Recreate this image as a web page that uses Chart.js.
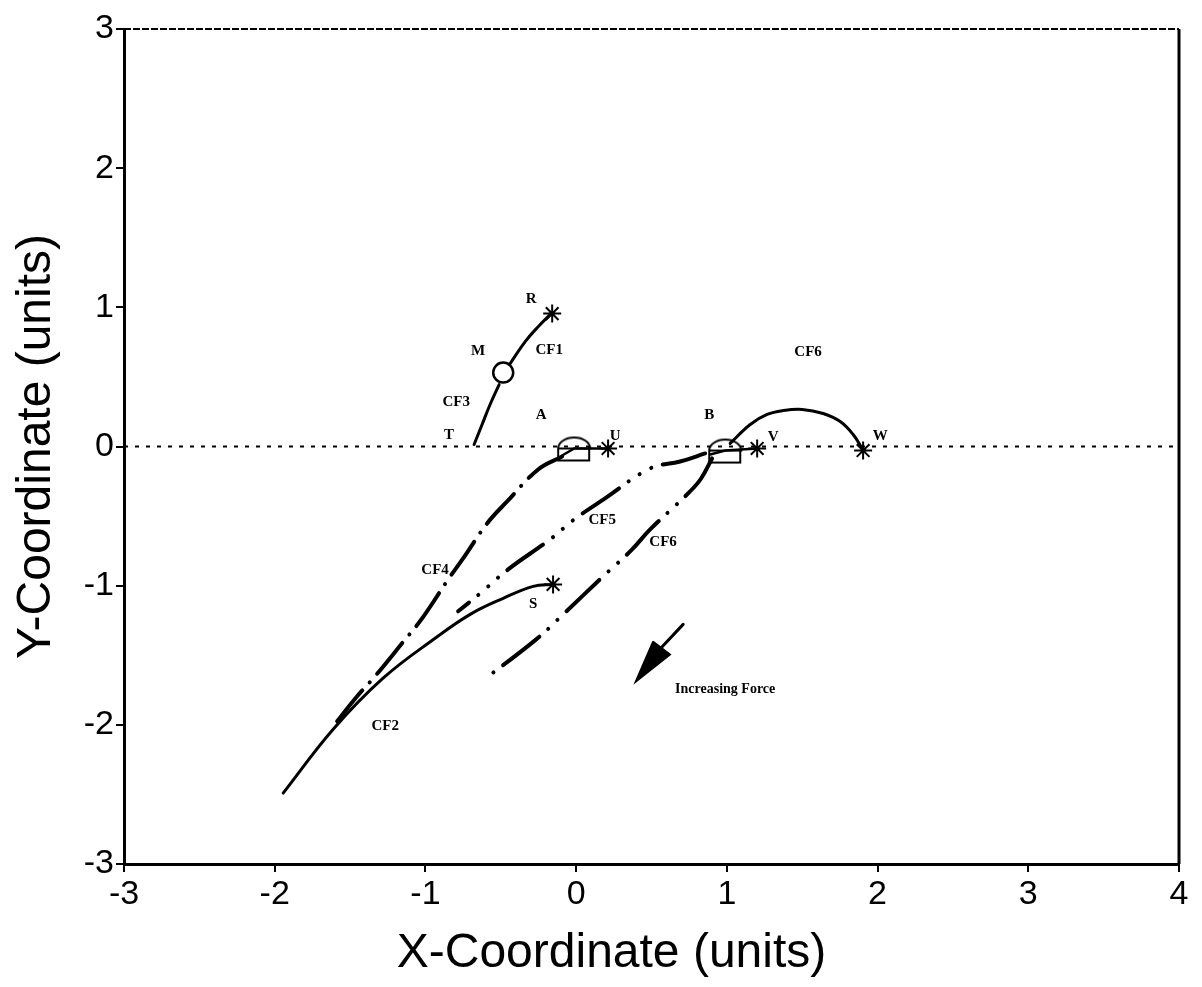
<!DOCTYPE html>
<html>
<head>
<meta charset="utf-8">
<script src="https://cdn.jsdelivr.net/npm/chart.js@4.4.1/dist/chart.umd.min.js"></script>
<style>
  html, body { margin: 0; padding: 0; background: #ffffff; }
  #wrap { width: 1202px; height: 987px; }
</style>
</head>
<body>
<div id="wrap"><canvas id="c" width="1202" height="987"></canvas></div>
<script>
// ---- axis ticks ----
const xTicks = [-3, -2, -1, 0, 1, 2, 3, 4];
const yTicks = [-3, -2, -1, 0, 1, 2, 3];

// ---- reference line y = 0 ----
const zeroX = [-3, 4];
const zeroY = [0, 0];

// ---- CF1 (M -> R) ----
const cf1X = [-0.438, -0.338, -0.252, -0.166];
const cf1Y = [0.596, 0.754, 0.861, 0.955];

// ---- CF3 (T -> M) ----
const cf3X = [-0.677, -0.624, -0.571, -0.511];
const cf3Y = [0.014, 0.158, 0.302, 0.445];

// ---- CF2 (solid, to S) ----
const cf2X = [-1.944, -1.612, -1.281, -0.936, -0.703, -0.484, -0.285, -0.153];
const cf2Y = [-2.491, -2.032, -1.665, -1.378, -1.206, -1.091, -1.005, -0.991];

// ---- CF4 (dash-dot, from A) ----
const cf4X = [-0.093, -0.252, -0.458, -0.591, -0.750, -0.849, -1.022, -1.155, -1.334, -1.453, -1.612];
const cf4Y = [-0.072, -0.165, -0.395, -0.553, -0.804, -0.955, -1.235, -1.414, -1.651, -1.795, -2.010];

// ---- CF5 (dash-dot-dot-dot, from B) ----
const cf5X = [0.856, 0.690, 0.491, 0.192, -0.013, -0.173, -0.451, -0.644, -0.783];
const cf5Y = [-0.050, -0.108, -0.158, -0.373, -0.524, -0.668, -0.883, -1.062, -1.184];

// ---- CF6 lower (dash-dot-dot, from B) ----
const cf6lX = [0.902, 0.829, 0.756, 0.491, 0.365, 0.179, -0.086, -0.265, -0.617];
const cf6lY = [-0.086, -0.230, -0.323, -0.596, -0.747, -0.933, -1.206, -1.386, -1.680];

// ---- CF6 upper arc (B -> W) ----
const cf6uX = [1.022, 1.155, 1.267, 1.374, 1.500, 1.639, 1.752, 1.838, 1.898];
const cf6uY = [0.022, 0.158, 0.230, 0.258, 0.266, 0.237, 0.179, 0.086, -0.014];

// ---- short force lines A -> U, B -> V ----
const auX = [-0.093, -0.013, 0.212];
const auY = [-0.065, -0.014, -0.014];
const bvX = [0.889, 0.989, 1.201];
const bvY = [-0.057, -0.029, -0.014];

// ---- star end points R, U, S, V, W ----
const starNames = ['R', 'U', 'S', 'V', 'W'];
const starX = [-0.159, 0.212, -0.153, 1.201, 1.904];
const starY = [0.955, -0.014, -0.991, -0.014, -0.029];

// ---- circle M ----
const circX = [-0.484];
const circY = [0.531];

// ---- mouse / protractor symbols A and B ----
const symX = [-0.013, 0.989];
const symY = [-0.014, -0.029];

// ---- arrow (Increasing Force) ----
const shaftX = [0.710, 0.524];
const shaftY = [-1.278, -1.493];
const headX = [0.510, 0.625, 0.392, 0.510];
const headY = [-1.400, -1.495, -1.694, -1.400];

// ---- annotations ----
const labelTexts = ['R', 'M', 'CF1', 'CF3', 'A', 'T', 'U', 'B', 'V', 'W', 'CF6', 'CF5', 'CF6', 'CF4', 'S', 'CF2', 'Increasing Force'];
const labelX = [-0.299, -0.650, -0.179, -0.796, -0.232, -0.843, 0.259, 0.883, 1.307, 2.017, 1.539, 0.173, 0.577, -0.936, -0.285, -1.267, 0.989];
const labelY = [1.062, 0.682, 0.696, 0.316, 0.223, 0.079, 0.072, 0.223, 0.065, 0.072, 0.675, -0.531, -0.689, -0.890, -1.134, -2.010, -1.744];

function pts(xs, ys) { return xs.map((x, i) => ({ x: x, y: ys[i] })); }

// symbol image for A / B (half-dome over a small box)
function makeSymbol() {
  const c = document.createElement('canvas');
  c.width = 38; c.height = 30;
  const g = c.getContext('2d');
  g.strokeStyle = '#000';
  g.lineWidth = 2;
  g.beginPath();
  g.ellipse(19, 15, 16, 11, 0, Math.PI, 2 * Math.PI);
  g.closePath();
  g.stroke();
  g.strokeRect(3, 15, 31, 12);
  return c;
}
const symImg = makeSymbol();

const lineBase = { showLine: true, pointRadius: 0, borderColor: '#000', backgroundColor: '#000', fill: false, borderCapStyle: 'round' };

const datasets = [
  Object.assign({}, lineBase, { label: 'zero', data: pts(zeroX, zeroY), borderWidth: 2, borderDash: [4, 7], borderCapStyle: 'butt', tension: 0 }),
  Object.assign({}, lineBase, { label: 'CF1', data: pts(cf1X, cf1Y), borderWidth: 3, tension: 0.4 }),
  Object.assign({}, lineBase, { label: 'CF3', data: pts(cf3X, cf3Y), borderWidth: 3, tension: 0.4 }),
  Object.assign({}, lineBase, { label: 'CF2', data: pts(cf2X, cf2Y), borderWidth: 3, tension: 0.4 }),
  Object.assign({}, lineBase, { label: 'CF4', data: pts(cf4X, cf4Y), borderWidth: 4, tension: 0.4, borderDash: [40, 11, 0.1, 11] }),
  Object.assign({}, lineBase, { label: 'CF5', data: pts(cf5X, cf5Y), borderWidth: 4, tension: 0.4, borderDash: [44, 12, 0.1, 13, 0.1, 13, 0.1, 12] }),
  Object.assign({}, lineBase, { label: 'CF6 lower', data: pts(cf6lX, cf6lY), borderWidth: 4, tension: 0.4, borderDash: [46, 12, 0.1, 13, 0.1, 12] }),
  Object.assign({}, lineBase, { label: 'CF6 upper', data: pts(cf6uX, cf6uY), borderWidth: 3, tension: 0.4 }),
  Object.assign({}, lineBase, { label: 'AU', data: pts(auX, auY), borderWidth: 2.5, tension: 0 }),
  Object.assign({}, lineBase, { label: 'BV', data: pts(bvX, bvY), borderWidth: 2.5, tension: 0 }),
  Object.assign({}, lineBase, { label: 'shaft', data: pts(shaftX, shaftY), borderWidth: 3, tension: 0 }),
  Object.assign({}, lineBase, { label: 'head', data: pts(headX, headY), borderWidth: 1.5, tension: 0, fill: 'shape', borderCapStyle: 'butt' }),
  { label: 'stars', data: pts(starX, starY), showLine: false, pointStyle: 'star', pointRadius: 9, borderWidth: 2, borderColor: '#000', backgroundColor: '#000' },
  { label: 'M', data: pts(circX, circY), showLine: false, pointStyle: 'circle', pointRadius: 10, borderWidth: 2.5, borderColor: '#000', backgroundColor: '#fff' },
  { label: 'symbols', data: pts(symX, symY), showLine: false, pointStyle: symImg, pointRadius: 15 }
];

const framePlugin = {
  id: 'frame',
  beforeDatasetsDraw(chart) {
    const a = chart.chartArea, g = chart.ctx;
    g.save();
    g.strokeStyle = '#000';
    g.lineWidth = 2;
    g.setLineDash([7, 2]);
    g.beginPath(); g.moveTo(a.left, a.top); g.lineTo(a.right, a.top); g.stroke();
    g.setLineDash([]);
    g.lineWidth = 3;
    g.beginPath(); g.moveTo(a.right, a.top); g.lineTo(a.right, a.bottom); g.stroke();
    g.restore();
  }
};

const labelPlugin = {
  id: 'labels',
  afterDatasetsDraw(chart) {
    const g = chart.ctx, xs = chart.scales.x, ys = chart.scales.y;
    g.save();
    g.fillStyle = '#000';
    g.textAlign = 'center';
    g.textBaseline = 'middle';
    labelTexts.forEach((t, i) => {
      g.font = (t === 'Increasing Force' ? 'bold 14px' : 'bold 15px') + ' "Liberation Serif", "Times New Roman", serif';
      g.fillText(t, xs.getPixelForValue(labelX[i]), ys.getPixelForValue(labelY[i]));
    });
    g.restore();
  }
};

const tickFont = { family: '"Liberation Sans", Arial, Helvetica, sans-serif', size: 34 };
const titleFont = { family: '"Liberation Sans", Arial, Helvetica, sans-serif', size: 48 };

new Chart(document.getElementById('c'), {
  type: 'scatter',
  data: { datasets: datasets },
  options: {
    responsive: false,
    animation: false,
    events: [],
    layout: { padding: { top: 29, right: 23, bottom: 0, left: 0 } },
    plugins: { legend: { display: false }, tooltip: { enabled: false } },
    scales: {
      x: {
        type: 'linear', min: -3, max: 4,
        afterBuildTicks: (s) => { s.ticks = xTicks.map(v => ({ value: v })); },
        afterFit: (s) => { s.height = 123; },
        ticks: { color: '#000', font: tickFont, padding: 2, callback: (v) => String(v) },
        grid: { drawOnChartArea: false, tickLength: 8, color: '#000', lineWidth: 2 },
        border: { display: true, color: '#000', width: 3 },
        title: { display: true, text: 'X-Coordinate (units)\u00a0\u00a0\u00a0\u00a0\u00a0\u00a0', color: '#000', font: titleFont, padding: { top: 0, bottom: 4 } }
      },
      y: {
        type: 'linear', min: -3, max: 3,
        afterBuildTicks: (s) => { s.ticks = yTicks.map(v => ({ value: v })); },
        afterFit: (s) => { s.width = 124; },
        ticks: { color: '#000', font: tickFont, padding: 2, callback: (v) => String(v) },
        grid: { drawOnChartArea: false, tickLength: 8, color: '#000', lineWidth: 2 },
        border: { display: true, color: '#000', width: 3 },
        title: { display: true, text: 'Y-Coordinate (units)', color: '#000', font: titleFont, padding: { top: 8, bottom: 0 } }
      }
    }
  },
  plugins: [framePlugin, labelPlugin]
});
</script>
</body>
</html>
